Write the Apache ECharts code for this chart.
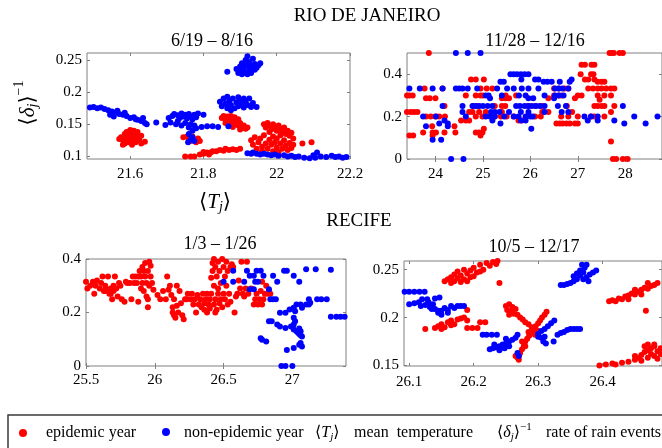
<!DOCTYPE html>
<html>
<head>
<meta charset="utf-8">
<script src="https://cdn.jsdelivr.net/npm/echarts@6/dist/echarts.min.js"></script>
<style>html,body{margin:0;padding:0;background:#fff}#c{width:662px;height:448px}</style>
</head>
<body>
<div id="c"></div>
<script>
// ---------- tick labels ----------
const rioWinterXTicks = [21.6, 21.8, 22, 22.2];
const rioWinterYTicks = [0.1, 0.15, 0.2, 0.25];
const rioSummerXTicks = [24, 25, 26, 27, 28];
const rioSummerYTicks = [0, 0.2, 0.4];
const recifeJanXTicks = [25.5, 26, 26.5, 27];
const recifeJanYTicks = [0, 0.2, 0.4];
const recifeOctXTicks = [26.1, 26.2, 26.3, 26.4];
const recifeOctYTicks = [0.15, 0.2, 0.25];

// ---------- titles ----------
const cityTitles = ['RIO DE JANEIRO', 'RECIFE'];
const panelTitles = ['6/19 – 8/16', '11/28 – 12/16', '1/3 – 1/26', '10/5 – 12/17'];
const legendLabels = ['epidemic year', 'non-epidemic year', 'mean  temperature', 'rate of rain events'];

// ---------- data: [mean temperature, rate of rain events] ----------
const rioWinterEpi = [
[21.575,0.130],[21.58,0.125],[21.585,0.135],[21.585,0.120],[21.59,0.128],[21.59,0.138],[21.595,0.132],[21.60,0.124],[21.60,0.136],[21.605,0.118],[21.605,0.130],[21.61,0.127],[21.61,0.140],[21.615,0.122],[21.615,0.134],[21.62,0.130],[21.62,0.138],[21.625,0.125],[21.63,0.132],[21.63,0.120],[21.64,0.123],[21.58,0.118],[21.595,0.122],[21.6,0.141],[21.57,0.127],
[21.745,0.130],[21.755,0.131],[21.76,0.127],[21.765,0.124],[21.77,0.131],[21.775,0.126],[21.785,0.128],[21.79,0.124],[21.78,0.122],
[21.75,0.100],[21.765,0.100],[21.775,0.100],[21.79,0.103],[21.80,0.104],[21.81,0.106],[21.82,0.106],[21.825,0.108],[21.835,0.108],[21.845,0.110],[21.855,0.109],[21.87,0.110],[21.88,0.111],[21.89,0.110],[21.90,0.112],[21.80,0.107],[21.815,0.103],[21.86,0.112],
[21.85,0.160],[21.855,0.163],[21.86,0.158],[21.865,0.162],[21.865,0.155],[21.87,0.160],[21.875,0.152],[21.875,0.163],[21.88,0.157],[21.885,0.150],[21.885,0.161],[21.89,0.155],[21.895,0.148],[21.90,0.152],[21.905,0.145],[21.91,0.148],[21.915,0.143],[21.92,0.145],[21.895,0.158],[21.88,0.146],[21.87,0.148],[21.86,0.152],[21.90,0.142],
[21.93,0.125],[21.935,0.118],[21.94,0.130],[21.945,0.112],[21.95,0.122],[21.955,0.128],[21.96,0.115],[21.96,0.108],[21.965,0.133],[21.97,0.120],[21.975,0.112],[21.98,0.126],[21.985,0.118],[21.99,0.108],[21.99,0.131],[21.995,0.122],[22.0,0.114],[22.0,0.128],[22.005,0.107],[22.01,0.120],[22.015,0.112],[22.02,0.125],[22.025,0.117],[22.03,0.110],[22.035,0.121],[22.04,0.113],[22.045,0.118],
[21.965,0.150],[21.97,0.145],[21.975,0.152],[21.98,0.148],[21.985,0.142],[21.99,0.150],[21.995,0.145],[22.0,0.140],[22.005,0.148],[22.01,0.143],[22.015,0.138],[22.02,0.145],[22.025,0.135],[22.03,0.140],[22.035,0.132],[22.04,0.137],[22.045,0.128],[22.01,0.133],[21.98,0.138],
[22.07,0.120],[22.095,0.122]
];
const rioWinterNon = [
[21.49,0.176],[21.50,0.177],[21.51,0.175],[21.52,0.176],[21.53,0.174],[21.54,0.172],[21.55,0.170],[21.56,0.168],[21.565,0.171],[21.57,0.166],[21.58,0.165],[21.59,0.163],[21.60,0.160],[21.61,0.161],[21.615,0.158],[21.62,0.157],[21.63,0.155],[21.64,0.152],[21.645,0.150],[21.635,0.160],[21.585,0.168],[21.555,0.162],[21.545,0.165],
[21.671,0.153],[21.696,0.149],
[21.705,0.160],[21.715,0.163],[21.72,0.166],[21.73,0.164],[21.735,0.160],[21.74,0.167],[21.745,0.162],[21.75,0.165],[21.755,0.159],[21.76,0.166],[21.765,0.162],[21.77,0.158],[21.775,0.165],[21.78,0.161],[21.785,0.167],[21.71,0.153],[21.725,0.150],[21.74,0.148],[21.75,0.152],[21.76,0.145],[21.765,0.150],[21.77,0.140],[21.775,0.148],[21.76,0.135],[21.77,0.130],[21.765,0.126],[21.775,0.124],[21.758,0.122],[21.78,0.144],[21.795,0.146],[21.81,0.147],[21.825,0.147],[21.84,0.146],[21.80,0.165],[21.868,0.147],[21.73,0.155],
[21.845,0.185],[21.85,0.178],[21.855,0.190],[21.86,0.182],[21.865,0.175],[21.865,0.193],[21.87,0.186],[21.875,0.180],[21.88,0.190],[21.885,0.175],[21.89,0.184],[21.895,0.178],[21.90,0.188],[21.905,0.182],[21.91,0.176],[21.915,0.186],[21.92,0.180],[21.925,0.190],[21.93,0.177],[21.935,0.183],[21.945,0.177],[21.875,0.172],[21.895,0.192],[21.91,0.190],
[21.865,0.232],[21.89,0.236],[21.895,0.230],[21.90,0.240],[21.905,0.228],[21.905,0.245],[21.91,0.236],[21.915,0.250],[21.915,0.230],[21.92,0.242],[21.92,0.256],[21.925,0.236],[21.925,0.247],[21.93,0.230],[21.93,0.240],[21.935,0.252],[21.94,0.235],[21.94,0.244],[21.945,0.238],[21.95,0.242],[21.955,0.245],[21.90,0.233],[21.91,0.241],[21.92,0.228],
[21.92,0.105],[21.93,0.104],[21.935,0.106],[21.945,0.104],[21.955,0.103],[21.965,0.104],[21.975,0.103],[21.985,0.102],[21.995,0.103],[22.005,0.101],[22.02,0.102],[22.03,0.100],[22.04,0.101],[22.05,0.099],[22.06,0.100],[22.075,0.098],[22.09,0.097],[22.10,0.102],[22.105,0.098],[22.12,0.100],[22.135,0.099],[22.15,0.101],[22.16,0.099],[22.17,0.100],[22.18,0.098],[22.19,0.099],[22.11,0.106],[22.095,0.095]
];
const rioSummerEpi = [
[23.86,0.5],[27.67,0.5],[27.72,0.5],[27.76,0.5],[27.88,0.5],[27.95,0.5],
[27.08,0.444],[27.15,0.444],[27.29,0.444],[27.35,0.444],
[27.06,0.4],[27.28,0.4],[27.33,0.4],
[24.75,0.375],[24.85,0.375],[25.02,0.375],[27.15,0.375],[27.22,0.375],[27.35,0.375],[27.42,0.364],[27.5,0.364],[27.56,0.364],
[23.77,0.333],[24.15,0.333],[24.95,0.333],[25.08,0.333],[25.2,0.333],[26.5,0.333],[26.6,0.333],[26.72,0.333],[26.8,0.333],[27.22,0.333],[27.32,0.333],[27.42,0.333],[27.5,0.333],[27.6,0.333],[27.7,0.333],[27.77,0.333],
[23.4,0.3],[23.45,0.3],[23.52,0.3],[24.64,0.3],[24.85,0.3],[24.95,0.3],[25.0,0.3],[25.48,0.3],[25.7,0.3],[26.5,0.3],[26.6,0.3],[26.66,0.3],[27.0,0.3],[27.08,0.3],[27.42,0.3],[27.56,0.3],[27.7,0.3],
[23.8,0.286],[23.88,0.286],[24.0,0.286],[25.4,0.286],[25.48,0.286],[25.55,0.286],[26.38,0.286],[26.94,0.286],[27.46,0.28],
[24.19,0.25],[24.8,0.25],[24.87,0.25],[25.25,0.25],[25.4,0.25],[25.47,0.25],[25.95,0.25],[26.1,0.25],[26.25,0.25],[26.77,0.25],[27.35,0.25],[27.42,0.25],[27.5,0.25],[27.56,0.25],[27.77,0.25],
[23.4,0.222],[23.48,0.222],[23.55,0.222],[23.62,0.222],[24.71,0.222],[24.78,0.222],[24.92,0.222],[25.06,0.222],[25.4,0.222],[26.25,0.222],[26.38,0.222],[26.88,0.222],[27.7,0.222],
[23.8,0.2],[23.9,0.2],[24.0,0.2],[24.08,0.2],[24.2,0.2],[24.85,0.2],[24.99,0.2],[25.25,0.2],[25.38,0.2],[25.5,0.2],[25.65,0.2],[26.1,0.2],[26.22,0.2],[26.65,0.2],[26.8,0.2],[27.0,0.2],[27.28,0.2],[27.35,0.2],[27.56,0.2],
[24.54,0.182],[24.64,0.182],[24.71,0.182],[25.75,0.182],[25.82,0.182],
[26.55,0.167],[26.62,0.167],[26.68,0.167],[26.76,0.167],[26.83,0.167],[26.94,0.167],[27.0,0.167],
[23.93,0.154],[24.4,0.154],
[25.02,0.143],
[23.74,0.125],[23.94,0.125],[24.01,0.125],[24.19,0.125],[24.42,0.125],[24.85,0.125],[24.92,0.125],[24.99,0.125],
[23.45,0.111],[23.53,0.111],[23.94,0.111],[24.95,0.111],
[27.7,0.083],
[27.74,0],[27.81,0],[27.95,0],[28.05,0]
];
const rioSummerNon = [
[24.43,0.5],[24.68,0.5],[24.95,0.5],
[25.58,0.4],[25.65,0.4],[25.72,0.4],[25.8,0.4],[25.88,0.4],[25.96,0.4],
[25.81,0.375],[26.1,0.375],[26.17,0.375],[26.87,0.375],[26.83,0.364],
[25.37,0.364],[25.44,0.364],[26.28,0.364],[26.36,0.364],[26.45,0.364],[26.62,0.364],
[23.45,0.333],[23.67,0.333],[23.94,0.333],[24.15,0.333],[24.43,0.333],[24.5,0.333],[24.57,0.333],[24.68,0.333],[24.88,0.333],[25.3,0.333],[25.51,0.333],[25.65,0.333],[25.82,0.333],[25.96,0.333],[26.17,0.333],[26.52,0.333],[26.6,0.333],[26.68,0.333],[26.8,0.333],
[25.06,0.3],[25.12,0.3],[25.4,0.3],[25.76,0.3],[25.9,0.3],[26.3,0.3],[26.52,0.3],[26.6,0.3],[26.7,0.3],
[25.15,0.286],[25.96,0.286],[26.06,0.286],[26.5,0.286],
[24.15,0.25],[24.57,0.25],[24.78,0.25],[24.85,0.25],[24.92,0.25],[25.0,0.25],[25.1,0.25],[25.2,0.25],[25.7,0.25],[25.78,0.25],[25.88,0.25],[25.96,0.25],[26.03,0.25],[26.12,0.25],[26.2,0.25],[26.3,0.25],[26.58,0.25],[26.75,0.25],[27.95,0.25],
[24.57,0.222],[25.17,0.222],[25.25,0.222],[25.35,0.222],[25.55,0.222],[25.8,0.222],[25.96,0.222],[26.3,0.222],[26.66,0.222],[26.8,0.222],
[23.74,0.2],[24.01,0.2],[24.64,0.2],[25.06,0.2],[25.15,0.2],[25.25,0.2],[25.45,0.2],[25.65,0.2],[25.75,0.2],[25.9,0.2],[26.0,0.2],[26.05,0.2],[27.14,0.2],[27.28,0.2],[27.42,0.2],[28.19,0.2],[28.68,0.2],
[24.19,0.182],[25.2,0.182],[25.8,0.182],[25.9,0.182],[27.21,0.182],[27.42,0.182],[27.77,0.182],
[24.08,0.167],[24.26,0.167],[25.37,0.167],[27.98,0.167],[28.43,0.167],
[23.8,0.154],[24.26,0.154],
[26.02,0.143],
[23.94,0.091],[24.12,0.091],
[24.33,0],[24.59,0]
];
const recifeJanEpi = [
[25.5,0.315],[25.51,0.29],[25.53,0.30],[25.55,0.315],[25.56,0.27],[25.57,0.30],[25.58,0.32],[25.60,0.29],[25.61,0.31],[25.62,0.335],[25.63,0.28],[25.64,0.30],[25.65,0.285],[25.66,0.335],[25.67,0.27],[25.68,0.29],[25.69,0.25],[25.70,0.28],[25.70,0.30],[25.71,0.335],[25.72,0.29],[25.73,0.26],[25.74,0.31],[25.75,0.30],[25.76,0.25],[25.78,0.24],[25.79,0.315],[25.80,0.31],[25.64,0.28],[25.68,0.27],
[25.82,0.31],[25.83,0.25],[25.84,0.335],[25.85,0.31],[25.86,0.335],[25.87,0.31],[25.88,0.335],[25.88,0.24],[25.89,0.355],[25.90,0.29],[25.90,0.335],[25.91,0.31],[25.91,0.37],[25.92,0.28],[25.92,0.355],[25.93,0.335],[25.93,0.385],[25.94,0.31],[25.94,0.26],[25.95,0.22],[25.95,0.355],[25.96,0.39],[25.96,0.30],[25.97,0.335],[25.98,0.31],[25.99,0.285],[25.95,0.25],[25.97,0.375],
[26.02,0.265],[26.04,0.25],[26.06,0.28],[26.08,0.25],[26.09,0.335],[26.10,0.285],[26.11,0.30],[26.12,0.265],[26.13,0.22],[26.13,0.20],[26.14,0.25],[26.15,0.18],[26.16,0.225],[26.17,0.20],[26.18,0.28],[26.19,0.235],[26.20,0.19],[26.21,0.175],[26.22,0.25],[26.23,0.25],[26.24,0.27],[26.16,0.30],[26.14,0.19],
[26.26,0.25],[26.27,0.27],[26.28,0.23],[26.29,0.25],[26.30,0.20],[26.31,0.265],[26.32,0.23],[26.33,0.25],[26.34,0.22],[26.35,0.27],[26.36,0.235],[26.36,0.21],[26.37,0.25],[26.38,0.27],[26.38,0.20],[26.39,0.23],[26.40,0.25],[26.40,0.215],[26.41,0.27],[26.41,0.33],[26.42,0.355],[26.42,0.385],[26.43,0.23],[26.43,0.30],[26.43,0.40],[26.44,0.25],[26.44,0.37],[26.45,0.21],[26.45,0.335],[26.46,0.27],[26.46,0.39],[26.47,0.235],[26.47,0.355],[26.48,0.25],[26.48,0.31],[26.49,0.40],[26.49,0.22],[26.50,0.27],[26.50,0.37],[26.51,0.335],[26.51,0.25],[26.52,0.30],[26.52,0.39],[26.53,0.355],[26.53,0.23],[26.54,0.27],[26.55,0.37],[26.55,0.24],[26.56,0.38],[26.57,0.37],[26.58,0.20],[26.59,0.26],[26.60,0.27],[26.61,0.32],[26.62,0.29],[26.63,0.39],[26.64,0.27],[26.65,0.26],[26.66,0.29],[26.67,0.39],[26.68,0.27],[26.70,0.29],[26.46,0.29],[26.44,0.20],
[26.72,0.23],[26.73,0.25],[26.74,0.27],[26.75,0.23],[26.76,0.25],[26.77,0.28],[26.78,0.23],[26.79,0.25],[26.80,0.27],[26.81,0.30],[26.82,0.27],[26.83,0.28],[26.84,0.27],[26.78,0.315]
];
const recifeJanNon = [
[26.5,0.315],[26.57,0.356],[26.57,0.315],[26.65,0.315],[26.67,0.356],[26.69,0.337],[26.72,0.337],[26.74,0.356],[26.77,0.356],[26.73,0.315],[26.75,0.315],[26.69,0.287],[26.72,0.287],[26.79,0.337],[26.83,0.287],[26.86,0.337],[26.89,0.315],[26.94,0.356],[26.96,0.356],[27.01,0.337],[27.05,0.315],[27.1,0.362],[27.17,0.362],[27.28,0.36],
[26.84,0.25],[26.86,0.25],[26.88,0.25],[27.12,0.25],[27.18,0.25],[27.21,0.25],[27.25,0.25],
[27.28,0.184],[27.32,0.184],[27.35,0.184],[27.38,0.184],
[26.83,0.167],[26.85,0.167],[26.89,0.155],[26.91,0.148],[26.95,0.142],[26.99,0.148],[27.01,0.155],
[26.91,0.199],[26.95,0.199],[26.98,0.211],[27.01,0.218],[27.02,0.205],[27.03,0.23],[27.06,0.23],[27.07,0.218],[27.1,0.23],[27.12,0.23],[27.13,0.236],
[27.01,0.18],[27.02,0.167],
[27.01,0.136],[27.03,0.13],[27.04,0.125],[27.05,0.12],[27.06,0.115],[27.07,0.11],[27.06,0.13],[27.05,0.14],[27.06,0.086],[27.07,0.073],[27.05,0.079],[27.01,0.067],[26.96,0.06],
[26.77,0.104],[26.78,0.098],[26.81,0.092],
[26.92,0],[26.95,0],[27.0,0]
];
const recifeOctEpi = [
[26.155,0.238],[26.16,0.240],[26.165,0.242],[26.17,0.245],[26.17,0.238],[26.175,0.248],[26.175,0.241],[26.18,0.244],[26.185,0.250],[26.185,0.240],[26.19,0.246],[26.19,0.238],[26.195,0.249],[26.20,0.252],[26.20,0.243],[26.205,0.247],[26.21,0.255],[26.215,0.250],[26.22,0.257],[26.225,0.254],[26.23,0.258],[26.235,0.256],[26.237,0.259],[26.165,0.236],[26.18,0.237],[26.195,0.242],[26.21,0.248],
[26.24,0.236],
[26.125,0.188],[26.14,0.189],[26.145,0.191],[26.15,0.193],[26.155,0.190],[26.16,0.195],[26.165,0.197],[26.17,0.193],[26.175,0.198],[26.18,0.199],[26.185,0.200],[26.19,0.197],[26.19,0.208],[26.15,0.188],[26.165,0.192],
[26.19,0.189],[26.198,0.189],[26.206,0.189],[26.21,0.195],[26.218,0.195],
[26.25,0.212],[26.252,0.208],[26.255,0.214],[26.258,0.206],[26.26,0.211],[26.262,0.204],[26.265,0.209],[26.255,0.203],
[26.268,0.203],[26.272,0.200],[26.276,0.198],[26.28,0.195],[26.285,0.193],[26.29,0.190],[26.295,0.188],[26.30,0.186],
[26.268,0.158],[26.27,0.160],[26.272,0.163],[26.275,0.167],[26.278,0.171],[26.28,0.175],[26.283,0.178],[26.286,0.181],[26.29,0.185],[26.293,0.188],[26.296,0.191],[26.30,0.194],[26.303,0.197],[26.306,0.200],[26.31,0.203],[26.313,0.206],[26.28,0.170],[26.285,0.185],[26.295,0.182],[26.275,0.175],[26.265,0.160],[26.27,0.156],
[26.41,0.217],[26.415,0.218],[26.42,0.217],[26.425,0.220],[26.43,0.219],[26.435,0.222],[26.44,0.223],[26.445,0.225],[26.45,0.224],[26.455,0.227],[26.46,0.229],[26.465,0.231],[26.47,0.230],[26.475,0.233],[26.48,0.234],[26.485,0.236],[26.46,0.224],[26.47,0.236],[26.45,0.229],[26.44,0.219],
[26.467,0.207],
[26.395,0.150],[26.405,0.151],[26.415,0.152],[26.42,0.151],[26.43,0.153],[26.44,0.154],[26.45,0.156],[26.455,0.158],[26.46,0.161],[26.465,0.164],[26.47,0.166],[26.475,0.168],[26.48,0.170],[26.485,0.165],[26.47,0.158],[26.475,0.162],[26.48,0.160],[26.485,0.157],[26.49,0.162],[26.46,0.155],[26.465,0.170],[26.48,0.172],[26.49,0.168],[26.45,0.160],[26.47,0.172]
];
const recifeOctNon = [
[26.093,0.227],[26.1,0.227],[26.108,0.227],[26.116,0.227],[26.124,0.227],
[26.10,0.214],[26.108,0.215],[26.115,0.216],[26.12,0.219],[26.125,0.213],[26.13,0.216],[26.132,0.211],[26.137,0.214],[26.14,0.209],[26.14,0.220],[26.145,0.207],[26.118,0.212],[26.128,0.219],[26.135,0.209],
[26.147,0.221],
[26.145,0.205],[26.15,0.207],[26.155,0.210],[26.16,0.208],[26.165,0.212],[26.17,0.210],[26.175,0.212],[26.18,0.212],[26.185,0.212],[26.15,0.203],[26.16,0.205],
[26.214,0.182],[26.22,0.182],[26.228,0.182],[26.236,0.182],
[26.225,0.167],[26.23,0.168],[26.235,0.169],[26.24,0.170],[26.245,0.172],[26.25,0.173],[26.255,0.175],[26.26,0.177],[26.265,0.179],[26.24,0.166],[26.248,0.168],[26.232,0.172],[26.255,0.170],[26.25,0.178],[26.268,0.182],
[26.268,0.163],[26.27,0.160],
[26.30,0.183],[26.305,0.186],[26.31,0.188],[26.315,0.191],[26.32,0.194],[26.325,0.197],[26.31,0.180],[26.305,0.179],[26.312,0.173],[26.308,0.175],[26.30,0.180],
[26.324,0.175],[26.33,0.182],[26.335,0.184],[26.34,0.185],[26.345,0.187],[26.35,0.188],[26.355,0.188],[26.36,0.188],[26.365,0.188],
[26.335,0.234],[26.34,0.234],[26.345,0.235],[26.35,0.236],[26.355,0.238],[26.36,0.240],[26.365,0.244],[26.37,0.247],[26.372,0.252],[26.375,0.255],[26.365,0.249],[26.36,0.246],[26.37,0.240],[26.375,0.242],[26.38,0.245],[26.385,0.247],[26.39,0.249],[26.378,0.238],[26.355,0.243],[26.368,0.255]
];

// ---------- layout ----------
const SERIF = '"Liberation Serif", "DejaVu Serif", serif';
const F = s => s + 'px ' + SERIF;
const FI = s => 'italic ' + s + 'px ' + SERIF;
const RED = '#ff0000', BLUE = '#0000ff';

const panels = [
  {grid:{left:87, top:53, width:263, height:106}, x:[21.482, 22.2], y:[0.096, 0.261], xt:rioWinterXTicks, yt:rioWinterYTicks, epi:rioWinterEpi, non:rioWinterNon, xm:8},
  {grid:{left:407, top:53, width:258, height:106}, x:[23.4, 28.775], y:[0, 0.5], xt:rioSummerXTicks, yt:rioSummerYTicks, epi:rioSummerEpi, non:rioSummerNon, xm:8},
  {grid:{left:86, top:259, width:260, height:107}, x:[25.5, 27.39], y:[0, 0.4], xt:recifeJanXTicks, yt:recifeJanYTicks, epi:recifeJanEpi, non:recifeJanNon, xm:7},
  {grid:{left:404, top:261, width:260, height:105}, x:[26.092, 26.492], y:[0.1495, 0.259], xt:recifeOctXTicks, yt:recifeOctYTicks, epi:recifeOctEpi, non:recifeOctNon, xm:9}
];

const lab = {color:'#000', fontFamily:'Liberation Serif', fontSize:15};
const tick = vals => ({show:true, inside:true, length:3, lineStyle:{color:'#808080'}, customValues:vals});
const grids = [], xAxes = [], yAxes = [], series = [];
panels.forEach((p, i) => {
  grids.push(Object.assign({show:true, borderColor:'#808080', borderWidth:1, backgroundColor:'transparent'}, p.grid));
  xAxes.push({type:'value', gridIndex:i, min:p.x[0], max:p.x[1], position:'bottom', axisLine:{show:false}, splitLine:{show:false}, axisTick:tick(p.xt), axisLabel:Object.assign({customValues:p.xt, margin:p.xm}, lab)});
  xAxes.push({type:'value', gridIndex:i, min:p.x[0], max:p.x[1], position:'top', axisLine:{show:false}, splitLine:{show:false}, axisTick:tick(p.xt), axisLabel:{show:false}});
  yAxes.push({type:'value', gridIndex:i, min:p.y[0], max:p.y[1], position:'left', axisLine:{show:false}, splitLine:{show:false}, axisTick:tick(p.yt), axisLabel:Object.assign({customValues:p.yt, margin:5}, lab)});
  yAxes.push({type:'value', gridIndex:i, min:p.y[0], max:p.y[1], position:'right', axisLine:{show:false}, splitLine:{show:false}, axisTick:tick(p.yt), axisLabel:{show:false}});
  series.push({type:'scatter', xAxisIndex:2*i, yAxisIndex:2*i, data:p.epi, symbolSize:6, itemStyle:{color:RED, opacity:1}, silent:true, animation:false});
  series.push({type:'scatter', xAxisIndex:2*i, yAxisIndex:2*i, data:p.non, symbolSize:6, itemStyle:{color:BLUE, opacity:1}, silent:true, animation:false});
});

// ---------- text helpers ----------
const mctx = document.createElement('canvas').getContext('2d');
function tw(t, f){ mctx.font = f; return mctx.measureText(t).width; }
function seq(parts, x0, y0, center){
  let total = parts.reduce((a, p) => a + tw(p.t, p.f) + (p.gap || 0), 0);
  let x = center ? x0 - total / 2 : x0;
  return parts.map(p => {
    const el = {type:'text', x:x, y:y0 + (p.dy || 0), silent:true, style:{text:p.t, font:p.f, fill:'#000', align:'left', verticalAlign:'middle'}};
    x += tw(p.t, p.f) + (p.gap || 0);
    return el;
  });
}
function txt(t, x, y, f, align){ return {type:'text', x:x, y:y, silent:true, style:{text:t, font:f, fill:'#000', align:align || 'center', verticalAlign:'middle'}}; }

const graphics = [];
graphics.push(txt(cityTitles[0], 367, 16, F(19)));
graphics.push(txt(cityTitles[1], 359, 221, F(19)));
graphics.push(txt(panelTitles[0], 212, 41, F(18)));
graphics.push(txt(panelTitles[1], 535, 41, F(18)));
graphics.push(txt(panelTitles[2], 220, 244, F(18)));
graphics.push(txt(panelTitles[3], 534, 247, F(18)));

// x-axis label <T_j>
graphics.push(...seq([
  {t:'⟨', f:F(21)}, {t:'T', f:FI(21), gap:0}, {t:'j', f:FI(14), dy:5}, {t:'⟩', f:F(21)}
], 215, 202, true));
// y-axis label <delta_j>^-1, rotated
graphics.push({type:'group', x:28, y:103, rotation:Math.PI/2, silent:true, children: seq([
  {t:'⟨', f:F(21)}, {t:'δ', f:FI(21)}, {t:'j', f:FI(14), dy:5}, {t:'⟩', f:F(21)}, {t:'−1', f:F(14), dy:-9}
], 0, 0, true)});

// legend box
graphics.push({type:'rect', silent:true, shape:{x:8, y:415, width:700, height:34}, style:{fill:'none', stroke:'#3a3a3a', lineWidth:1.5}});
graphics.push({type:'circle', silent:true, shape:{cx:23, cy:433, r:4}, style:{fill:RED}});
graphics.push({type:'circle', silent:true, shape:{cx:166, cy:432, r:4}, style:{fill:BLUE}});
graphics.push(txt(legendLabels[0], 46, 433, F(16), 'left'));
graphics.push(txt(legendLabels[1], 184, 433, F(16), 'left'));
graphics.push(...seq([
  {t:'⟨', f:F(16)}, {t:'T', f:FI(16)}, {t:'j', f:FI(11), dy:4}, {t:'⟩', f:F(16)}
], 315, 433, false));
graphics.push(txt(legendLabels[2], 354, 433, F(16), 'left'));
graphics.push(...seq([
  {t:'⟨', f:F(16)}, {t:'δ', f:FI(16)}, {t:'j', f:FI(11), dy:4}, {t:'⟩', f:F(16)}, {t:'−1', f:F(11), dy:-6}
], 497, 433, false));
graphics.push(txt(legendLabels[3], 546, 433, F(16), 'left'));

const chart = echarts.init(document.getElementById('c'), null, {renderer:'canvas'});
chart.setOption({
  backgroundColor:'#fff',
  animation:false,
  textStyle:{fontFamily:'Liberation Serif'},
  grid:grids, xAxis:xAxes, yAxis:yAxes, series:series,
  graphic:graphics
});
</script>
</body>
</html>
